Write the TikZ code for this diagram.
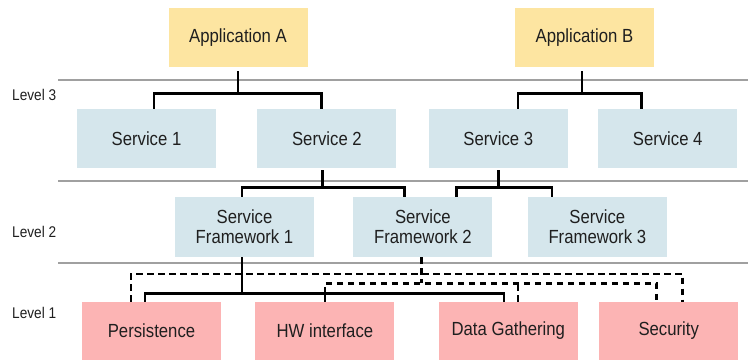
\documentclass[tikz,border=0pt]{standalone}
\usepackage{fontspec}
\setmainfont{Liberation Sans}[FakeStretch=0.88]
\usetikzlibrary{positioning}
\definecolor{appyellow}{RGB}{253,229,161}
\definecolor{svcblue}{RGB}{213,230,236}
\definecolor{basepink}{RGB}{252,180,180}
\definecolor{levelgray}{RGB}{160,160,160}

\begin{document}
\begin{tikzpicture}[
        x=1pt, y=1pt,
        every node/.style={font=\fontsize{19}{20}\selectfont, text=black!88},
        box/.style={minimum width=139pt, minimum height=59pt, inner sep=0pt, align=center},
        app/.style={box, fill=appyellow},
        service/.style={box, fill=svcblue},
        framework/.style={box, fill=svcblue, minimum height=60pt},
        base/.style={box, fill=basepink, minimum height=58pt},
        level/.style={font=\fontsize{15.5}{17}\selectfont, anchor=west, inner sep=0pt},
        sep/.style={levelgray, line width=1.3pt},
        link/.style={line width=2.6pt},
        uses/.style={line width=2.6pt, dash pattern=on 6.5pt off 4.5pt}
    ]
    \useasboundingbox (0,0) rectangle (748,360);

    % Level separators
    \draw[sep] (58,280) -- (748,280);
    \draw[sep] (58,179) -- (748,179);
    \draw[sep] (58,97) -- (748,97);

    \node[level] (lvl3) at (12,265) {Level 3};
    \node[level] (lvl2) at (12,128) {Level 2};
    \node[level] (lvl1) at (12,47) {Level 1};

    % Applications
    \node[app] (appA) at (238,322.5) {Application A};
    \node[app, right=207pt of appA] (appB) {Application B};

    % Services
    \node[service] (svc1) at (146.5,221.5) {Service 1};
    \node[service, right=41pt of svc1] (svc2) {Service 2};
    \node[service, right=32pt of svc2] (svc3) {Service 3};
    \node[service, right=30pt of svc3] (svc4) {Service 4};

    % Service frameworks
    \node[framework] (sf1) at (244.5,133) {Service\\Framework 1};
    \node[framework, right=39pt of sf1] (sf2) {Service\\Framework 2};
    \node[framework, right=35pt of sf2] (sf3) {Service\\Framework 3};

    % Base modules
    \node[base] (pers) at (151.5,29) {Persistence};
    \node[base, right=34pt of pers] (hw) {HW interface};
    \node[base, right=44pt of hw] (gath) {Data Gathering};
    \node[base, right=21pt of gath] (sec) {Security};

    % Applications to services
    \draw[link] ([yshift=-4pt]appA.south) -- ++(0,-22) coordinate (jA);
    \draw[link] ([xshift=7.5pt]svc1.north) |- (jA) -| ([xshift=-5.5pt]svc2.north);
    \draw[link] ([xshift=-2.5pt,yshift=-4pt]appB.south) -- ++(0,-22) coordinate (jB);
    \draw[link] ([xshift=19.5pt]svc3.north) |- (jB) -| ([xshift=-26.5pt]svc4.north);

    % Services to frameworks
    \draw[link] ([xshift=-4.5pt,yshift=-2pt]svc2.south) -- ++(0,-17) coordinate (jS2);
    \draw[link] ([xshift=-2.5pt]sf1.north) |- (jS2) -| ([xshift=-18.5pt]sf2.north);
    \draw[link] ([yshift=-2pt]svc3.south) -- ++(0,-17) coordinate (jS3);
    \draw[link] ([xshift=33.5pt]sf2.north) |- (jS3) -| ([xshift=-45.5pt]sf3.north);

    % Frameworks to base modules
    \draw[link] ([xshift=-2.5pt]sf1.south) -- ++(0,-36) coordinate (jF1);
    \draw[link] ([xshift=-6.5pt]pers.north) |- (jF1) -| ([xshift=-4.5pt]gath.north);
    \draw[link] (hw.north) -- (hw.north |- jF1);

    \draw[uses] ([xshift=-1.5pt]sf2.south) -- ++(0,-26) coordinate (jF2);
    \draw[uses] ([xshift=-20.5pt]pers.north) -- ++(0,28) -| ([xshift=13.5pt]sec.north);
    \draw[uses] (hw.north |- jF1) |- (jF2) -| ([xshift=-12.5pt]sec.north);
    \draw[uses] ([xshift=9.5pt]gath.north) -- ([xshift=9.5pt]gath.north |- jF2);
\end{tikzpicture}
\end{document}
